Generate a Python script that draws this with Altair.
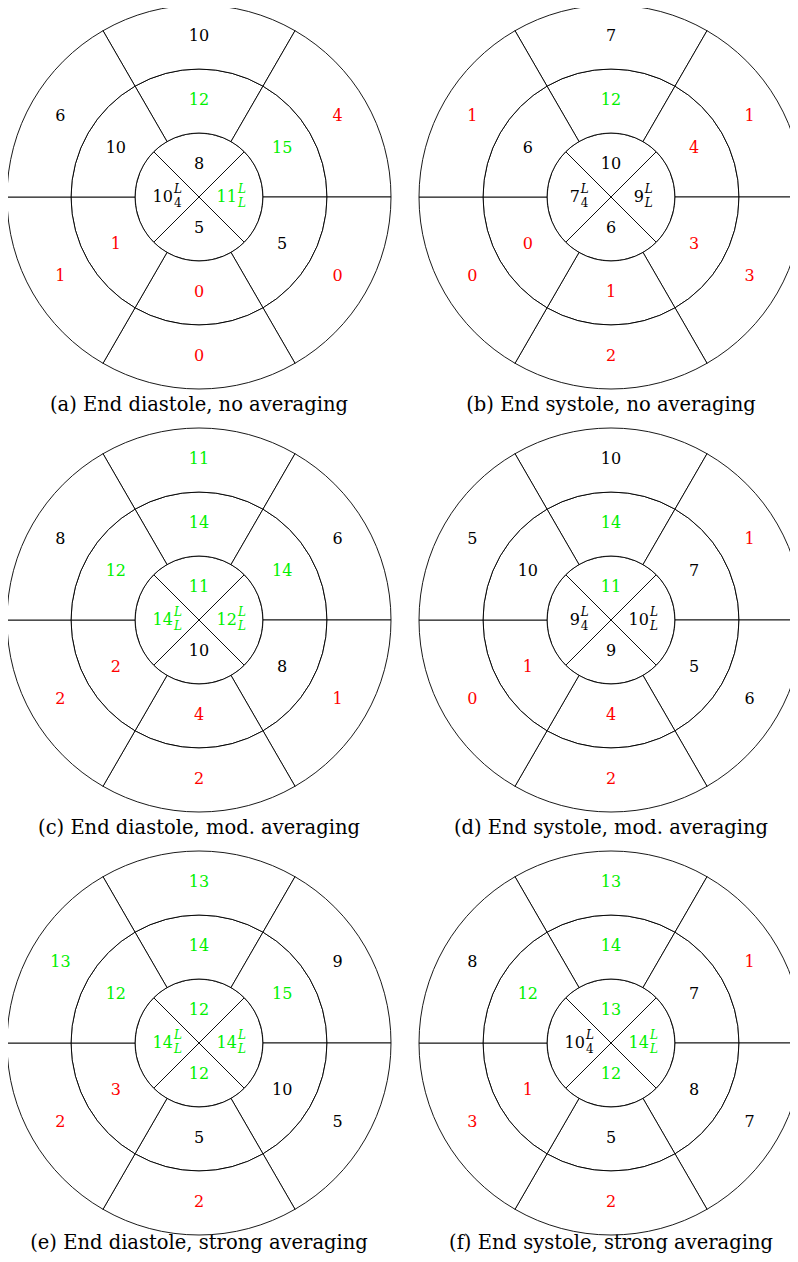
import math
import altair as alt
import pandas as pd

# ---------------- data ----------------
captions = [
    "(a) End diastole, no averaging",
    "(b) End systole, no averaging",
    "(c) End diastole, mod. averaging",
    "(d) End systole, mod. averaging",
    "(e) End diastole, strong averaging",
    "(f) End systole, strong averaging",
]
# outer & middle rings: clockwise from the top segment
outer_vals = [
    [10, 4, 0, 0, 1, 6],
    [7, 1, 3, 2, 0, 1],
    [11, 6, 1, 2, 2, 8],
    [10, 1, 6, 2, 0, 5],
    [13, 9, 5, 2, 2, 13],
    [13, 1, 7, 2, 3, 8],
]
middle_vals = [
    [12, 15, 5, 0, 1, 10],
    [12, 4, 3, 1, 0, 6],
    [14, 14, 8, 4, 2, 12],
    [14, 7, 5, 4, 1, 10],
    [14, 15, 10, 5, 3, 12],
    [14, 7, 8, 5, 1, 12],
]
# inner ring: top, right, bottom, left
inner_vals = [
    [8, 11, 5, 10],
    [10, 9, 6, 7],
    [11, 12, 10, 14],
    [11, 10, 9, 9],
    [12, 14, 12, 14],
    [13, 14, 12, 10],
]
sup_right = ["L", "L", "L", "L", "L", "L"]
sub_right = ["L", "L", "L", "L", "L", "L"]
sup_left = ["L", "L", "L", "L", "L", "L"]
sub_left = ["4", "4", "L", "4", "L", "4"]

# ---------------- layout constants ----------------
W, H = 782, 1246
RING = 64
CX0, CY0 = 191, 189
COL_STEP, ROW_STEP = 412, 423
CAP_DROP = 214
MAIN_FS, SCRIPT_FS, CAP_FS = 16, 12, 19.5
DIGIT_W, SCRIPT_W = 10.2, 7.5
SERIF = "DejaVu Serif"

seg_rows, plain_rows, comp_rows, cap_rows = [], [], [], []
for p in range(6):
    cx = CX0 + (p % 2) * COL_STEP
    cy = CY0 + (p // 2) * ROW_STEP
    for k in range(4):
        seg_rows.append(dict(cx=cx, cy=cy, t0=90 * k - 45, t1=90 * k + 45, r0=0, r1=1))
    for ring in (1, 2):
        for k in range(6):
            seg_rows.append(dict(cx=cx, cy=cy, t0=60 * k - 30, t1=60 * k + 30, r0=ring, r1=ring + 1))
    for ring, vals in ((1, middle_vals[p]), (2, outer_vals[p])):
        r = (ring + 0.5) * RING
        for k, v in enumerate(vals):
            a = math.radians(60 * k)
            plain_rows.append(dict(x=cx + r * math.sin(a), y=cy - r * math.cos(a), value=v, label=str(v)))
    r = 0.5 * RING
    for k in (0, 2):
        a = math.radians(90 * k)
        v = inner_vals[p][k]
        plain_rows.append(dict(x=cx + r * math.sin(a), y=cy - r * math.cos(a), value=v, label=str(v)))
    for k, sup, sub in ((1, sup_right[p], sub_right[p]), (3, sup_left[p], sub_left[p])):
        a = math.radians(90 * k)
        v = inner_vals[p][k]
        n = len(str(v))
        c = cx + r * math.sin(a)
        width = DIGIT_W * n + 1 + SCRIPT_W
        anchor = c - width / 2 + DIGIT_W * n
        comp_rows.append(dict(x=anchor, xs=anchor + 1, y=cy, value=v, label=str(v), sup=sup, sub=sub,
                              subdigit=sub.isdigit()))
    cap_rows.append(dict(x=cx, y=min(cy + CAP_DROP, H - 5), caption=captions[p]))

seg_df = pd.DataFrame(seg_rows)
plain_df = pd.DataFrame(plain_rows)
comp_df = pd.DataFrame(comp_rows)
cap_df = pd.DataFrame(cap_rows)

xs = alt.Scale(domain=[0, W], nice=False, zero=False)
ys = alt.Scale(domain=[0, H], nice=False, zero=False, reverse=True)
ts = alt.Scale(domain=[0, 360], range=[0, 2 * math.pi])
rs = alt.Scale(type="linear", domain=[0, 3], range=[0, 3 * RING], zero=True)
cs = alt.Scale(type="threshold", domain=[5, 11], range=["#ff0000", "#000000", "#00f000"])

X = lambda f: alt.X(f, scale=xs, axis=None)
Y = lambda f: alt.Y(f, scale=ys, axis=None)

arcs = alt.Chart(seg_df).mark_arc(stroke="black", strokeWidth=0.9, fill="white").encode(
    x=X("cx:Q"), y=Y("cy:Q"),
    theta=alt.Theta("t0:Q", scale=ts, stack=False), theta2="t1:Q",
    radius=alt.Radius("r0:Q", scale=rs), radius2="r1:Q",
)

col = alt.Color("value:Q", scale=cs, legend=None)

plain = alt.Chart(plain_df).mark_text(
    font=SERIF, fontSize=MAIN_FS, baseline="alphabetic", align="center", dy=4
).encode(x=X("x:Q"), y=Y("y:Q"), text="label:N", color=col)

main = alt.Chart(comp_df).mark_text(
    font=SERIF, fontSize=MAIN_FS, baseline="alphabetic", align="right", dy=5
).encode(x=X("x:Q"), y=Y("y:Q"), text="label:N", color=col)

sup = alt.Chart(comp_df).mark_text(
    font=SERIF, fontSize=SCRIPT_FS, fontStyle="italic", baseline="alphabetic", align="left", dy=-4
).encode(x=X("xs:Q"), y=Y("y:Q"), text="sup:N", color=col)

sub_it = alt.Chart(comp_df).transform_filter("!datum.subdigit").mark_text(
    font=SERIF, fontSize=SCRIPT_FS, fontStyle="italic", baseline="alphabetic", align="left", dy=10
).encode(x=X("xs:Q"), y=Y("y:Q"), text="sub:N", color=col)

sub_up = alt.Chart(comp_df).transform_filter("datum.subdigit").mark_text(
    font=SERIF, fontSize=SCRIPT_FS, baseline="alphabetic", align="left", dy=10
).encode(x=X("xs:Q"), y=Y("y:Q"), text="sub:N", color=col)

caps = alt.Chart(cap_df).mark_text(
    font=SERIF, fontSize=CAP_FS, baseline="alphabetic", align="center", color="black"
).encode(x=X("x:Q"), y=Y("y:Q"), text="caption:N")

chart = alt.layer(arcs, plain, main, sup, sub_it, sub_up, caps).properties(
    width=W, height=H, autosize=alt.AutoSizeParams(type="none"), padding=0
).configure_view(stroke=None)

chart.save("out.html", embed_options={"renderer": "svg", "actions": False})
